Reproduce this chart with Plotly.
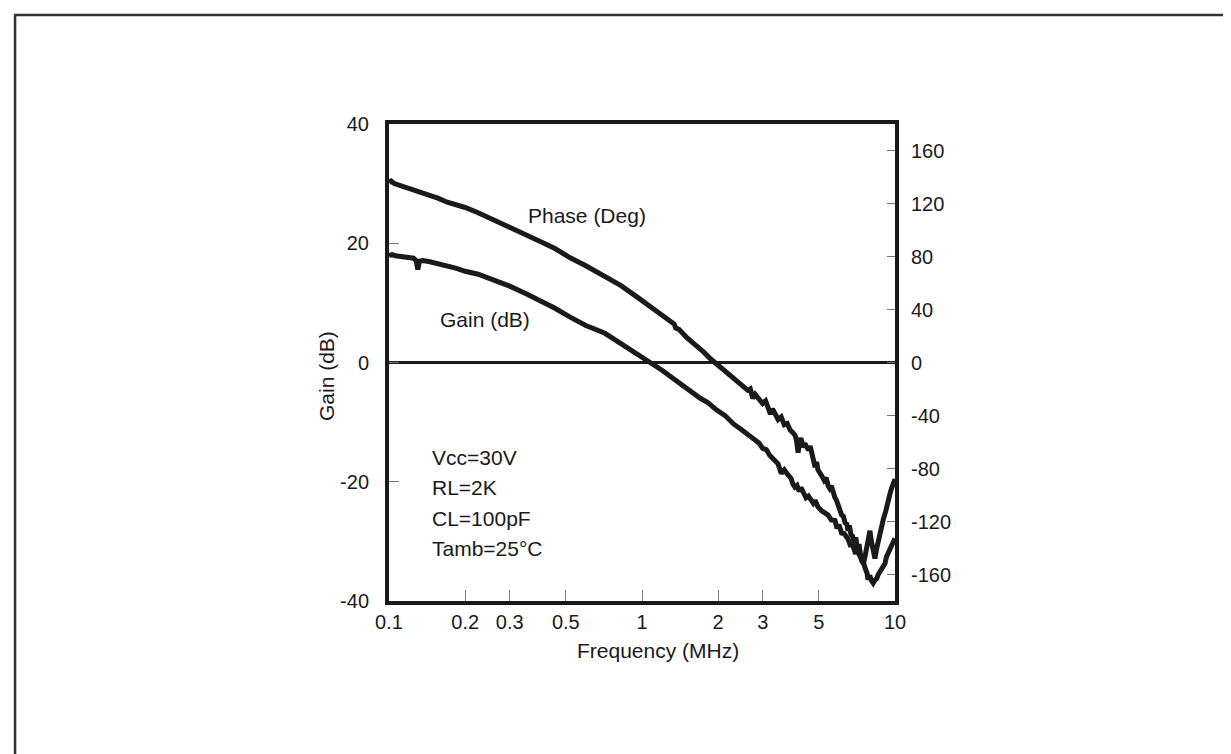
import plotly.graph_objects as go

# ---- data ----
phase_freq = [0.100, 0.102, 0.105, 0.109, 0.114, 0.120, 0.128, 0.134, 0.145, 0.156, 0.170, 0.185,
              0.200, 0.225, 0.250, 0.280, 0.310, 0.350, 0.400, 0.453, 0.520, 0.600, 0.700, 0.826,
              0.964, 1.100, 1.220, 1.300, 1.340, 1.360, 1.400, 1.500, 1.620, 1.750, 1.860, 1.940,
              2.020, 2.100, 2.200, 2.300, 2.400, 2.460, 2.550, 2.620, 2.680, 2.740, 2.800, 2.900,
              3.000, 3.080, 3.150, 3.220, 3.280, 3.350, 3.450, 3.550, 3.650, 3.750, 3.850, 3.950,
              4.030, 4.080, 4.140, 4.200, 4.250, 4.330, 4.400, 4.480, 4.550, 4.620, 4.700, 4.780,
              4.830, 4.900, 4.960, 5.050, 5.150, 5.250, 5.350, 5.440, 5.520, 5.600, 5.700, 5.790,
              5.870, 5.950, 6.050, 6.150, 6.250, 6.350, 6.450, 6.520, 6.600, 6.700, 6.800, 6.900,
              7.000, 7.070, 7.140, 7.210, 7.270, 7.340, 7.400, 7.500, 7.620, 7.750, 7.900, 7.960,
              8.050, 8.150, 8.250, 8.330, 8.450, 8.600, 8.800, 9.000, 9.200, 9.380, 9.500, 9.650,
              9.820, 10.00]
phase_deg = [136, 137, 135, 134, 133, 131, 130, 128, 126, 124, 121, 119,
             117, 113, 109, 105, 101, 97, 91, 86, 79, 73, 66, 58,
             49, 41, 34, 30, 29, 26, 25, 19, 14, 8, 3, 0,
             -2, -6, -9, -12, -15, -17, -19, -21, -20, -27, -24, -27,
             -31, -29, -34, -39, -35, -38, -43, -41, -47, -46, -51, -53,
             -55, -59, -68, -60, -57, -64, -61, -64, -66, -63, -72, -75,
             -79, -75, -81, -83, -86, -89, -87, -93, -95, -93, -100, -102,
             -104, -109, -111, -115, -116, -121, -122, -127, -123, -130, -131, -136,
             -132, -138, -140, -137, -145, -148, -150, -152, -146, -138, -130, -127,
             -134, -140, -147, -148, -141, -134, -125, -118, -112, -107, -101, -96,
             -91, -88]

gain_freq = [0.100, 0.103, 0.106, 0.110, 0.115, 0.120, 0.125, 0.128, 0.130, 0.132, 0.136, 0.145,
             0.156, 0.170, 0.185, 0.200, 0.225, 0.246, 0.275, 0.300, 0.350, 0.400, 0.453, 0.520,
             0.600, 0.714, 0.826, 0.964, 1.085, 1.200, 1.300, 1.420, 1.560, 1.700, 1.820, 1.950,
             2.130, 2.300, 2.460, 2.620, 2.700, 2.800, 2.900, 3.000, 3.100, 3.200, 3.360, 3.450,
             3.550, 3.650, 3.750, 3.880, 3.950, 4.020, 4.100, 4.180, 4.250, 4.350, 4.450, 4.550,
             4.650, 4.750, 4.830, 4.960, 5.100, 5.250, 5.440, 5.600, 5.790, 5.900, 6.000, 6.150,
             6.300, 6.520, 6.650, 6.800, 6.950, 7.100, 7.340, 7.500, 7.620, 7.750, 7.820, 7.950,
             8.050, 8.200, 8.330, 8.450, 8.600, 8.800, 9.000, 9.130, 9.250, 9.380, 9.500, 9.600,
             9.720, 9.820, 10.00]
gain_db = [17.9, 18.1, 17.9, 17.8, 17.7, 17.5, 17.5, 17.1, 15.6, 17.0, 17.1, 16.9,
           16.6, 16.2, 15.8, 15.3, 14.8, 14.2, 13.5, 12.8, 11.5, 10.3, 9.1, 7.6,
           6.2, 4.9, 3.2, 1.4, 0.0, -1.3, -2.4, -3.6, -4.8, -6.0, -6.7, -7.8,
           -8.9, -10.3, -11.2, -12.0, -12.4, -13.0, -13.5, -14.4, -14.6, -15.6, -16.5, -17.0,
           -18.6, -18.0, -18.7, -19.4, -20.4, -20.9, -20.6, -21.6, -21.0, -21.9, -22.7, -22.4,
           -23.2, -23.6, -23.1, -24.2, -24.8, -25.1, -25.6, -26.4, -26.5, -27.8, -27.2, -28.6,
           -28.7, -29.6, -30.6, -30.6, -31.8, -31.7, -32.6, -33.5, -34.5, -35.3, -36.4, -35.7,
           -36.5, -37.0, -36.5, -36.3, -35.5, -34.8, -33.8, -33.7, -32.6, -32.0, -31.5, -31.3,
           -30.5, -30.4, -29.5]

x_tickvals = [0.1, 0.2, 0.3, 0.5, 1, 2, 3, 5, 10]
x_ticktext = ["0.1", "0.2", "0.3", "0.5", "1", "2", "3", "5", "10"]
gain_ticks = [40, 20, 0, -20, -40]
phase_ticks = [160, 120, 80, 40, 0, -40, -80, -120, -160]
conditions = ["Vcc=30V", "RL=2K", "CL=100pF", "Tamb=25°C"]

FONT = "Liberation Sans Narrow, Arial Narrow, Liberation Sans, Arial, sans-serif"
INK = "#1a1a1a"

fig = go.Figure()
fig.add_trace(go.Scatter(x=phase_freq, y=phase_deg, yaxis="y2", mode="lines",
                         line=dict(color=INK, width=5), showlegend=False, hoverinfo="skip"))
fig.add_trace(go.Scatter(x=gain_freq, y=gain_db, yaxis="y", mode="lines",
                         line=dict(color=INK, width=5), showlegend=False, hoverinfo="skip"))

fig.update_layout(
    width=1231, height=754,
    margin=dict(l=381, r=344, t=116, b=161),
    paper_bgcolor="white", plot_bgcolor="white",
    font=dict(family=FONT, size=20, color=INK),
    xaxis=dict(type="log", range=[-1, 1], tickvals=x_tickvals, ticktext=x_ticktext,
               ticks="inside", ticklen=11, tickwidth=1, tickcolor="#777",
               showgrid=False, zeroline=False, showline=True, linewidth=4, linecolor=INK,
               mirror=True, tickfont=dict(family=FONT, size=20, color=INK),
               ticklabelstandoff=0),
    yaxis=dict(range=[-40, 40], tickvals=gain_ticks, ticktext=[str(v) for v in gain_ticks],
               ticks="inside", ticklen=10, tickwidth=1, tickcolor="#777",
               showgrid=False, zeroline=True, zerolinewidth=3, zerolinecolor=INK,
               showline=True, linewidth=4, linecolor=INK, mirror=True,
               tickfont=dict(family=FONT, size=20, color=INK), ticklabelstandoff=12),
    yaxis2=dict(range=[-180, 180], overlaying="y", side="right", tickvals=phase_ticks,
                ticktext=[str(v) for v in phase_ticks],
                ticks="inside", ticklen=8, tickwidth=1, tickcolor="#777",
                showgrid=False, zeroline=False, showline=True, linewidth=4, linecolor=INK,
                tickfont=dict(family=FONT, size=20, color=INK), ticklabelstandoff=8),
)

ann = [
    dict(text="Phase (Deg)", x=0.392, y=0.809),
    dict(text="Gain (dB)", x=0.1907, y=0.591),
    dict(text="Frequency (MHz)", x=0.532, y=-0.1048),
    dict(text="Gain (dB)", x=-0.1225, y=0.4717, textangle=-90),
]
for a in ann:
    fig.add_annotation(xref="paper", yref="paper", showarrow=False,
                       xanchor="center", yanchor="middle",
                       font=dict(family=FONT, size=21, color=INK), **a)

cond_y = [0.2998, 0.2369, 0.1740, 0.1111]
for txt, yy in zip(conditions, cond_y):
    fig.add_annotation(xref="paper", yref="paper", showarrow=False, text=txt,
                       x=0.081, y=yy, xanchor="left", yanchor="middle",
                       font=dict(family=FONT, size=21, color=INK))

# outer frame of the figure
fig.add_shape(type="rect", xref="paper", yref="paper",
              x0=-0.739, x1=1.676, y0=-0.40, y1=1.2285,
              line=dict(color="#333", width=2.5), layer="below")

fig.write_html("out.html")
